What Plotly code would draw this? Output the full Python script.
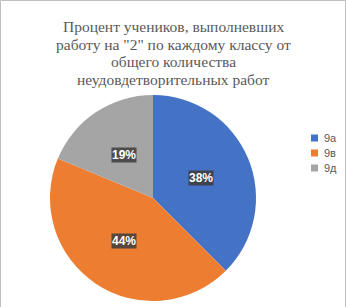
import math
import plotly.graph_objects as go

categories = ["9а", "9в", "9д"]
counts = [6, 7, 3]
colors = ["#4472C4", "#ED7D31", "#A5A5A5"]
title_lines = [
    "Процент учеников, выполневших",
    "работу на \"2\" по каждому классу от",
    "общего количества",
    "неудовдетворительных работ",
]

W, H = 346, 307
cx_px, cy_px, r_px = 153, 198, 103

fig = go.Figure(go.Pie(
    labels=categories,
    values=counts,
    marker=dict(colors=colors, line=dict(width=0)),
    sort=False,
    direction="clockwise",
    rotation=0,
    textinfo="none",
    hoverinfo="label+percent",
    showlegend=False,
    domain=dict(x=[(cx_px - r_px) / W, (cx_px + r_px) / W],
                y=[(H - cy_px - r_px) / H, (H - cy_px + r_px) / H]),
))

annotations = []
# title lines
for i, line in enumerate(title_lines):
    annotations.append(dict(
        text=line, xref="paper", yref="paper", x=173 / W, y=1 - (26.5 + i * 17.5) / H,
        xanchor="center", yanchor="middle", showarrow=False, borderpad=0,
        font=dict(family="Liberation Serif", size=15.5, color="#595959"),
    ))

# percentage labels placed at half radius along each slice's mid-angle
total = sum(counts)
start = 0.0
for v in counts:
    frac = v / total
    mid = (start + frac / 2) * 2 * math.pi
    start += frac
    x = (cx_px + 0.5 * r_px * math.sin(mid)) / W
    y = (H - cy_px + 0.5 * r_px * math.cos(mid)) / H
    annotations.append(dict(
        text=f"{round(frac * 100)}%", xref="paper", yref="paper", x=x, y=y,
        xanchor="center", yanchor="middle", showarrow=False,
        bgcolor="rgba(60,60,60,0.85)", borderpad=0,
        font=dict(family="Liberation Sans", size=12, color="white", weight="bold"),
    ))

# legend
shapes = [dict(type="rect", xref="paper", yref="paper", x0=0.5 / W, x1=(W - 0.5) / W,
               y0=-0.05, y1=1 - 0.5 / H, line=dict(color="#BFBFBF", width=1))]
for i, (cat, col) in enumerate(zip(categories, colors)):
    yc = 138 + i * 15
    shapes.append(dict(type="rect", xref="paper", yref="paper",
                       x0=311 / W, x1=318 / W, y0=(H - yc - 3.5) / H, y1=(H - yc + 3.5) / H,
                       fillcolor=col, line=dict(width=0)))
    annotations.append(dict(
        text=cat, xref="paper", yref="paper", x=322 / W, y=(H - yc) / H,
        xanchor="left", yanchor="middle", showarrow=False,
        font=dict(family="Liberation Sans", size=11, color="#595959"),
    ))

fig.update_layout(
    width=W, height=H,
    margin=dict(l=0, r=0, t=0, b=0),
    paper_bgcolor="white",
    annotations=annotations,
    shapes=shapes,
)

fig.write_html("out.html")
